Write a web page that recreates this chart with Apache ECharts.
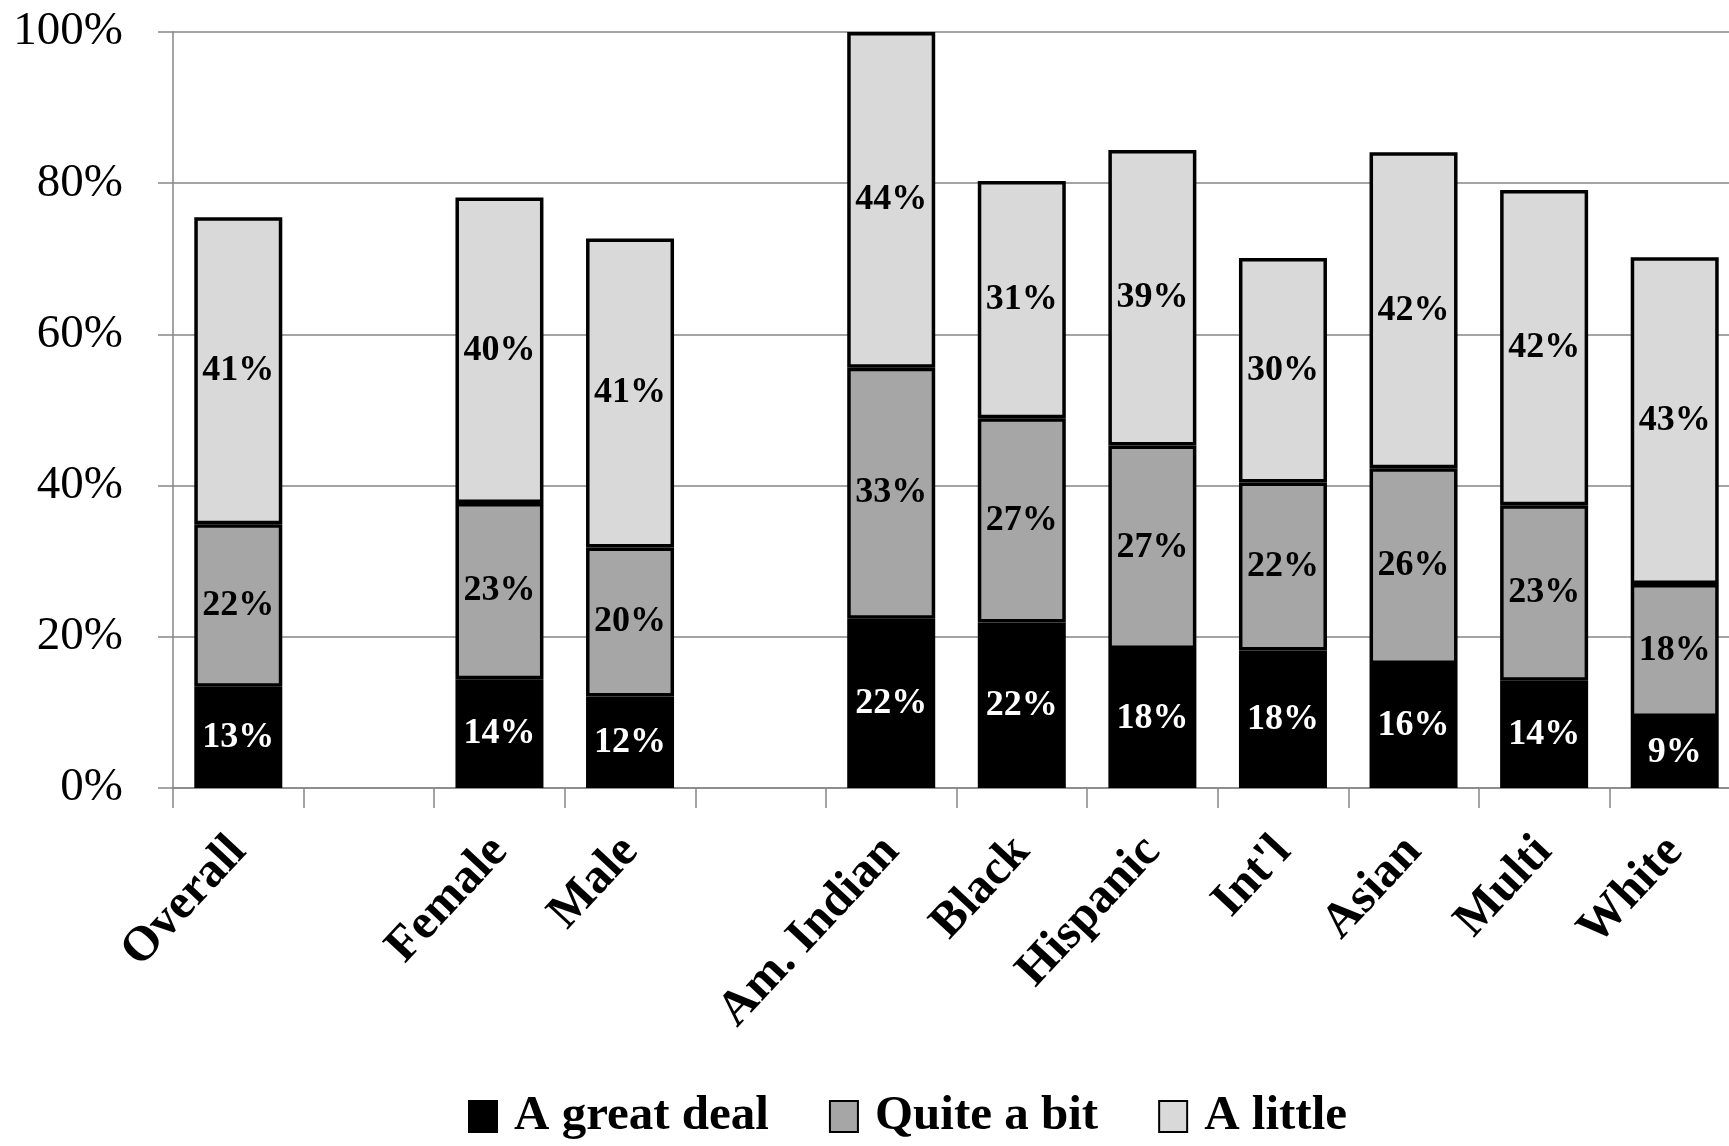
<!DOCTYPE html>
<html>
<head>
<meta charset="utf-8">
<script src="https://cdn.jsdelivr.net/npm/echarts@6/dist/echarts.min.js"></script>
<style>
  html, body { margin: 0; padding: 0; background: #fff; }
  #chart { width: 1729px; height: 1146px; }
</style>
</head>
<body>
<div id="chart"></div>
<script>
// categories (blank slots separate the groups)
const categories = ['Overall', ' ', 'Female', 'Male', '  ', 'Am. Indian', 'Black', 'Hispanic', "Int'l", 'Asian', 'Multi', 'White'];
// percent values per segment
const greatDeal = [13.4, '-', 14.4, 12.1, '-', 22.4, 21.9, 18.4, 18.2, 16.4, 14.2, 9.4];
const quiteABit = [21.5, '-', 23.3, 19.7, '-', 33.2, 27.0, 26.9, 22.2, 25.9, 23.2, 17.6];
const aLittle = [40.6, '-', 40.4, 40.9, '-', 44.4, 31.4, 39.1, 29.7, 41.8, 41.7, 43.2];
const yTicks = [0, 20, 40, 60, 80, 100];

const font = 'Liberation Serif';
const grey = '#868686';

const chart = echarts.init(document.getElementById('chart'));

function seg(name, data, color, labelColor) {
  return {
    name: name,
    type: 'bar',
    stack: 'total',
    data: data,
    barWidth: 88,
    itemStyle: { color: color, borderColor: '#000', borderWidth: 3.5 },
    label: {
      show: true,
      position: 'inside',
      color: labelColor,
      fontFamily: font,
      fontWeight: 'bold',
      fontSize: 36,
      formatter: p => Math.round(p.value) + '%'
    }
  };
}

chart.setOption({
  animation: false,
  // plot runs a little past the right edge, as in the original
  grid: { left: 173, width: 1567, top: 32, bottom: 358, outerBoundsMode: 'none' },
  legend: {
    bottom: 0,
    left: 463,
    itemWidth: 28,
    itemHeight: 31,
    itemGap: 60,
    icon: 'rect',
    textStyle: { fontFamily: font, fontWeight: 'bold', fontSize: 49, color: '#000', padding: [0, 0, 0, 12] },
    data: ['A great deal', 'Quite a bit', 'A little']
  },
  xAxis: {
    type: 'category',
    data: categories,
    axisLine: { lineStyle: { color: grey, width: 1.5 } },
    axisTick: { show: true, length: 20, interval: 0, lineStyle: { color: grey, width: 1.5 } },
    axisLabel: {
      interval: 0,
      rotate: 47,
      margin: 56,
      color: '#000',
      fontFamily: font,
      fontWeight: 'bold',
      fontSize: 49
    }
  },
  yAxis: {
    type: 'value',
    min: yTicks[0],
    max: yTicks[yTicks.length - 1],
    interval: 20,
    axisLine: { show: true, lineStyle: { color: grey, width: 1.5 } },
    axisTick: { show: true, length: 15, lineStyle: { color: grey, width: 1.5 } },
    splitLine: { lineStyle: { color: grey, width: 1.5 } },
    axisLabel: {
      margin: 50,
      color: '#000',
      fontFamily: font,
      fontSize: 47,
      formatter: '{value}%'
    }
  },
  series: [
    seg('A great deal', greatDeal, '#000000', '#fff'),
    seg('Quite a bit', quiteABit, '#a6a6a6', '#000'),
    seg('A little', aLittle, '#d9d9d9', '#000')
  ]
});
</script>
</body>
</html>
